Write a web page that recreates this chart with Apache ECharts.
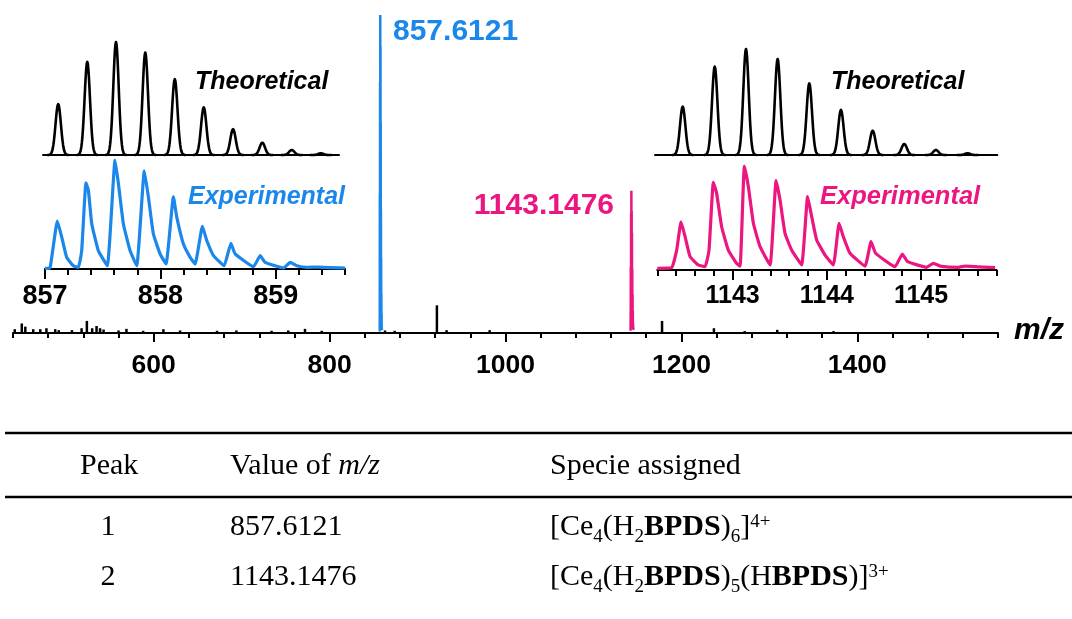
<!DOCTYPE html>
<html><head><meta charset="utf-8">
<script src="https://cdn.jsdelivr.net/npm/echarts@6/dist/echarts.min.js"></script>
<style>html,body{margin:0;padding:0;background:#fff}#c{width:1072px;height:619px}</style>
</head><body><div id="c"></div>
<script>
// ---------------- data ----------------
const mainTicks = [600, 800, 1000, 1200, 1400];
const noiseMz  = [442, 450, 454, 463, 471, 478, 488, 492, 507, 518, 524, 530, 535, 539, 543, 560, 569, 588, 611, 630, 672, 694, 734, 753, 772, 791, 863, 874, 922, 933, 982, 1178, 1237, 1272, 1309, 1373];
const noiseInt = [1.2, 3.0, 2.0, 1.2, 1.2, 1.5, 1.2, 0.9, 0.9, 1.5, 3.8, 1.5, 2.2, 1.5, 1.1, 0.8, 1.3, 0.7, 1.2, 0.8, 0.7, 0.8, 0.7, 0.8, 1.3, 0.7, 0.8, 0.7, 8.7, 0.9, 0.9, 3.8, 1.5, 0.6, 1.0, 0.6];
const peakLabels = ['857.6121', '1143.1476'];
const peakRelIntensity = [100, 44.7];

const leftTicks = [857, 858, 859];
const theoLeftMz  = [857.115, 857.367, 857.616, 857.870, 858.126, 858.377, 858.631, 858.885, 859.140, 859.392];
const theoLeftInt = [45, 82.4, 100, 90.6, 67.1, 42.1, 22.9, 10.9, 4.4, 1.5];
const expLeftMz  = [857.000, 857.043, 857.107, 857.145, 857.188, 857.245, 857.289, 857.318, 857.355, 857.376, 857.405, 857.462, 857.540, 857.607, 857.636, 857.679, 857.737, 857.795, 857.861, 857.896, 857.939, 857.997, 858.049, 858.113, 858.142, 858.199, 858.258, 858.301, 858.364, 858.402, 858.460, 858.552, 858.611, 858.648, 858.807, 858.865, 858.908, 859.067, 859.125, 859.183, 859.270, 859.370, 859.600];
const expLeftInt = [0.5, 0.9, 44.0, 29.2, 10.7, 3.0, 1.5, 16.9, 79.0, 72.3, 41.6, 16.9, 3.0, 100, 78.5, 41.6, 16.9, 3.0, 90.1, 66.1, 32.3, 13.9, 4.6, 66.1, 47.6, 23.1, 10.7, 4.6, 39.1, 26.1, 12.3, 3.0, 23.6, 13.9, 2.1, 12.3, 6.1, 0.9, 6.1, 3.0, 1.5, 1.8, 0.9];

const rightTicks = [1143, 1144, 1145];
const theoRightMz  = [1142.452, 1142.792, 1143.124, 1143.460, 1143.796, 1144.132, 1144.469, 1144.804, 1145.140, 1145.476];
const theoRightInt = [45.6, 83.3, 100, 90.6, 67.6, 42.5, 23.0, 10.4, 4.7, 1.6];
const expRightMz  = [1142.200, 1142.352, 1142.406, 1142.452, 1142.495, 1142.548, 1142.636, 1142.707, 1142.749, 1142.795, 1142.830, 1142.883, 1142.954, 1143.042, 1143.079, 1143.124, 1143.167, 1143.220, 1143.291, 1143.397, 1143.461, 1143.503, 1143.556, 1143.626, 1143.732, 1143.796, 1143.839, 1143.892, 1143.981, 1144.069, 1144.130, 1144.175, 1144.246, 1144.405, 1144.469, 1144.518, 1144.724, 1144.801, 1144.858, 1145.059, 1145.131, 1145.202, 1145.396, 1145.467, 1145.786];
const expRightInt = [1.6, 2.2, 19.2, 46.4, 32.0, 12.8, 4.8, 3.2, 19.2, 84.3, 73.7, 41.6, 19.2, 6.4, 3.8, 100, 80.1, 44.9, 22.4, 4.8, 85.9, 67.3, 35.3, 19.2, 4.8, 70.5, 51.3, 28.8, 14.4, 4.8, 44.9, 32.0, 16.1, 3.8, 27.2, 16.1, 3.2, 15.4, 8.0, 2.6, 6.4, 3.8, 2.6, 3.8, 2.2];

const tableHeader = ['Peak', 'Value of {i|m/z}', 'Specie assigned'];
const tableRows = [
  ['1', '857.6121', '[Ce{sub|4}(H{sub|2}{b|BPDS}){sub|6}]{sup|4+}'],
  ['2', '1143.1476', '[Ce{sub|4}(H{sub|2}{b|BPDS}){sub|5}(H{b|BPDS})]{sup|3+}']
];

// ---------------- helpers ----------------
const BLUE = '#1b87ea', PINK = '#ec1680';
const SANS = 'Liberation Sans, Arial, sans-serif';
const SERIF = 'Liberation Serif, Times New Roman, serif';
const zip = (a, b) => a.map((v, i) => [v, b[i]]);

function peakGlyph(params, api) {
  const top = api.coord([api.value(0), api.value(1)]);
  const base = api.coord([api.value(0), 0]);
  const h = base[1] - top[1];
  const sig = 2.7, pts = [];
  for (let k = -20; k <= 20; k++) {
    const dx = k / 20 * 4.0 * sig;
    pts.push([base[0] + dx, base[1] - h * Math.exp(-dx * dx / (2 * sig * sig))]);
  }
  return { type: 'polyline', shape: { points: pts }, style: { stroke: '#000', lineWidth: 2.6, fill: 'none', lineJoin: 'round' } };
}

function minorAxis(grid, min, max, interval, labels, fontSize, margin, tickLen) {
  return {
    type: 'value', gridIndex: grid, position: 'bottom', min, max, interval,
    axisLine: { show: true, onZero: false, lineStyle: { color: '#000', width: 2.2 } },
    axisTick: { show: true, length: tickLen, lineStyle: { color: '#000', width: 2 } },
    axisLabel: { show: true, customValues: labels, margin, color: '#000', fontSize, fontWeight: 'bold', fontFamily: SANS, formatter: v => String(v) },
    splitLine: { show: false }
  };
}
function majorAxis(grid, min, max, labels, tickLen) {
  return {
    type: 'value', gridIndex: grid, position: 'bottom', min, max,
    axisLine: { show: false, onZero: false },
    axisTick: { show: true, customValues: labels, length: tickLen, lineStyle: { color: '#000', width: 2 } },
    axisLabel: { show: false }, splitLine: { show: false }
  };
}
function plainAxis(grid, min, max) {
  return {
    type: 'value', gridIndex: grid, position: 'bottom', min, max,
    axisLine: { show: true, onZero: false, lineStyle: { color: '#000', width: 2 } },
    axisTick: { show: false }, axisLabel: { show: false }, splitLine: { show: false }
  };
}
const yAx = (grid, max) => ({ type: 'value', gridIndex: grid, min: 0, max, show: false, splitLine: { show: false } });

// ---------------- table graphics ----------------
const richStyles = {
  i: { fontFamily: SERIF, fontSize: 30, fontStyle: 'italic', fill: '#000', lineHeight: 40 },
  b: { fontFamily: SERIF, fontSize: 30, fontWeight: 'bold', fill: '#000', lineHeight: 40 },
  sub: { fontFamily: SERIF, fontSize: 19, fill: '#000', lineHeight: 22, verticalAlign: 'bottom' },
  sup: { fontFamily: SERIF, fontSize: 19, fill: '#000', lineHeight: 22, verticalAlign: 'top', padding: [6, 0, 0, 0] }
};
const colX = [80, 230, 550];
const rowY = [466, 527, 577];
const graphics = [];
function tText(txt, x, y, align) {
  graphics.push({ type: 'text', x, y, silent: true,
    style: { text: txt, fill: '#000', fontFamily: SERIF, fontSize: 30, lineHeight: 40, align: align || 'left', verticalAlign: 'middle', rich: richStyles } });
}
tableHeader.forEach((t, i) => tText(t, colX[i], rowY[0]));
tableRows.forEach((r, j) => {
  tText(r[0], 108, rowY[j + 1], 'center');
  tText(r[1], colX[1], rowY[j + 1]);
  tText(r[2], colX[2], rowY[j + 1]);
});
[433, 497].forEach(y => graphics.push({ type: 'line', silent: true, shape: { x1: 5, y1: y, x2: 1072, y2: y }, style: { stroke: '#000', lineWidth: 2.5 } }));

function label(txt, x, y, color, size, italic, align) {
  graphics.push({ type: 'text', x, y, silent: true, z: 100,
    style: { text: txt, fill: color, fontFamily: SANS, fontWeight: 'bold', fontStyle: italic ? 'italic' : 'normal', fontSize: size, align: align || 'left', verticalAlign: 'middle' } });
}
label('Theoretical', 195, 82, '#000', 25, true);
label('Experimental', 188, 197, BLUE, 25, true);
label('Theoretical', 831, 82, '#000', 25, true);
label('Experimental', 820, 197, PINK, 25.5, true);
label(peakLabels[0], 393, 32, BLUE, 30, false);
label(peakLabels[1], 614, 206, PINK, 30, false, 'right');
label('m/z', 1014, 331, '#000', 30, true);

// ---------------- chart ----------------
const chart = echarts.init(document.getElementById('c'), null, { renderer: 'canvas' });
chart.setOption({
  animation: false,
  backgroundColor: '#fff',
  grid: [
    { left: 13, top: 15, width: 985, height: 318 },
    { left: 43, top: 42, width: 296, height: 113 },
    { left: 45, top: 160, width: 300, height: 109 },
    { left: 655, top: 49, width: 342.3, height: 106 },
    { left: 657.3, top: 166, width: 339.1, height: 104 }
  ],
  xAxis: [
    minorAxis(0, 440, 1560, 40, mainTicks, 26.5, 19, 5),
    majorAxis(0, 440, 1560, mainTicks, 9),
    plainAxis(1, 856.983, 859.55),
    minorAxis(2, 857, 859.6, 0.2, leftTicks, 27, 14, 6),
    majorAxis(2, 857, 859.6, leftTicks, 10),
    plainAxis(3, 1142.158, 1145.792),
    minorAxis(4, 1142.2, 1145.8, 0.2, rightTicks, 25, 14, 6),
    majorAxis(4, 1142.2, 1145.8, rightTicks, 10)
  ],
  yAxis: [
    yAx(0, 100),
    yAx(0, 100 * peakRelIntensity[0] / peakRelIntensity[1]),
    yAx(1, 100), yAx(2, 100), yAx(3, 100), yAx(4, 100)
  ],
  series: [
    { type: 'bar', xAxisIndex: 0, yAxisIndex: 0, data: zip(noiseMz, noiseInt), barWidth: 2.5, itemStyle: { color: '#000' }, silent: true },
    { type: 'line', xAxisIndex: 0, yAxisIndex: 0, data: zip(expLeftMz, expLeftInt), showSymbol: false, lineStyle: { color: BLUE, width: 2.5 }, silent: true },
    { type: 'line', xAxisIndex: 0, yAxisIndex: 1, data: zip(expRightMz, expRightInt), showSymbol: false, lineStyle: { color: PINK, width: 2.5 }, silent: true },
    { type: 'custom', xAxisIndex: 2, yAxisIndex: 2, data: zip(theoLeftMz, theoLeftInt), renderItem: peakGlyph, clip: false, silent: true },
    { type: 'line', xAxisIndex: 3, yAxisIndex: 3, data: zip(expLeftMz, expLeftInt), showSymbol: false, smooth: 0.12, lineStyle: { color: BLUE, width: 3.2, join: 'round' }, silent: true },
    { type: 'custom', xAxisIndex: 5, yAxisIndex: 4, data: zip(theoRightMz, theoRightInt), renderItem: peakGlyph, clip: false, silent: true },
    { type: 'line', xAxisIndex: 6, yAxisIndex: 5, data: zip(expRightMz, expRightInt), showSymbol: false, smooth: 0.12, lineStyle: { color: PINK, width: 3.2, join: 'round' }, silent: true }
  ],
  graphic: graphics
});
</script>
</body></html>
